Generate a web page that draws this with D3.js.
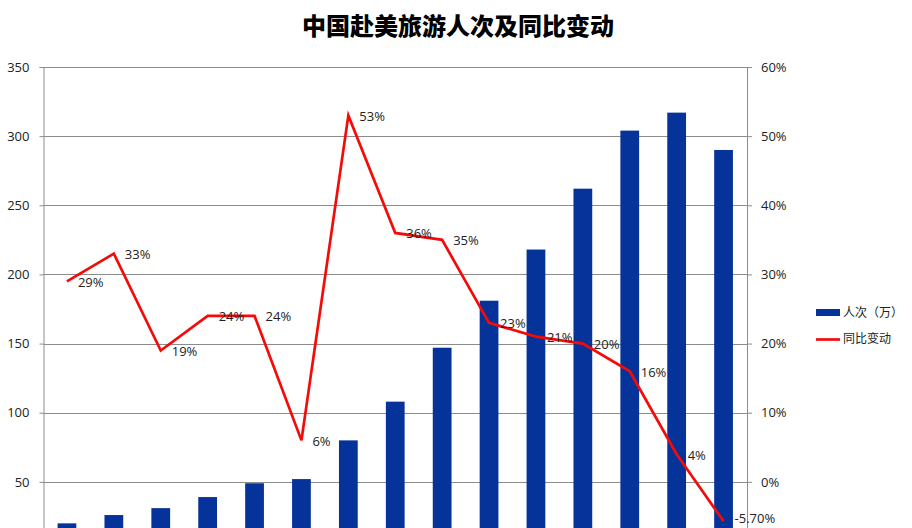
<!DOCTYPE html>
<html>
<head>
  <meta charset="utf-8">
  <title>中国赴美旅游人次及同比变动</title>
  <script src="https://d3js.org/d3.v7.min.js"></script>
  <style>
    body { margin: 0; background: #fff; }
    svg { display: block; overflow: hidden; }
    text { font-family: "Open Sans", "Noto Sans CJK SC", sans-serif; fill: #222; }
    .grid line { stroke: #8c8c8c; }
    .axis path, .axis line { stroke: #8c8c8c; }
  </style>
</head>
<body>
<div id="chart"></div>
<script>
// categories (the year labels sit below the photographed frame, so they are not drawn)
var years = ["2004", "2005", "2006", "2007", "2008", "2009", "2010", "2011",
             "2012", "2013", "2014", "2015", "2016", "2017", "2018"];
// 人次（万）
var visitors = [20, 26, 31, 39, 49, 52, 80, 108, 147, 181, 218, 262, 304, 317, 290];
// 同比变动 (%)
var yoy = [29, 33, 19, 24, 24, 6, 53, 36, 35, 23, 21, 20, 16, 4, -5.7];
var yoyLabels = ["29%", "33%", "19%", "24%", "24%", "6%", "53%", "36%", "35%",
                 "23%", "21%", "20%", "16%", "4%", "-5.70%"];
// only the ticks that fall inside the frame
var leftTicks = [50, 100, 150, 200, 250, 300, 350];
var rightTicks = [0, 10, 20, 30, 40, 50, 60];

var W = 912, H = 528;
var margin = {top: 67, right: 165, left: 43.5};
var plotBottom = 551;   // chart continues below the photographed frame

var svg = d3.select("#chart").append("svg")
    .attr("width", W)
    .attr("height", H);

var x = d3.scaleBand()
    .domain(years)
    .range([margin.left, W - margin.right])
    .paddingInner(0.6)
    .paddingOuter(0.3);

var yL = d3.scaleLinear().domain([0, 350]).range([plotBottom, margin.top]);
var yR = d3.scaleLinear().domain([-10, 60]).range([plotBottom, margin.top]);

// gridlines
svg.append("g")
    .attr("class", "grid")
    .selectAll("line")
    .data(leftTicks)
    .enter().append("line")
    .attr("x1", margin.left)
    .attr("x2", W - margin.right)
    .attr("y1", function(d) { return Math.round(yL(d)) + 0.5; })
    .attr("y2", function(d) { return Math.round(yL(d)) + 0.5; });

// left axis
var gl = svg.append("g")
    .attr("class", "axis")
    .attr("transform", "translate(" + margin.left + ",0)")
    .call(d3.axisLeft(yL).tickValues(leftTicks).tickSize(4).tickPadding(10));
gl.selectAll("text").style("font-size", "13px");

// right axis
var gr = svg.append("g")
    .attr("class", "axis")
    .attr("transform", "translate(" + (W - margin.right) + ",0)")
    .call(d3.axisRight(yR).tickValues(rightTicks).tickSize(5).tickPadding(9)
      .tickFormat(function(d) { return d + "%"; }));
gr.selectAll("text").style("font-size", "13px");

// bars
svg.selectAll(".bar")
    .data(visitors)
    .enter().append("rect")
    .attr("class", "bar")
    .attr("x", function(d, i) { return x(years[i]); })
    .attr("width", x.bandwidth())
    .attr("y", function(d) { return yL(d); })
    .attr("height", function(d) { return plotBottom - yL(d); })
    .attr("fill", "#05339a");

// line
var line = d3.line()
    .x(function(d, i) { return x(years[i]) + x.bandwidth() / 2; })
    .y(function(d) { return yR(d); });

svg.append("path")
    .datum(yoy)
    .attr("d", line)
    .attr("fill", "none")
    .attr("stroke", "#f50a0a")
    .attr("stroke-width", 2.7)
    .attr("stroke-linejoin", "miter");

// data labels
svg.selectAll(".lbl")
    .data(yoy)
    .enter().append("text")
    .attr("class", "lbl")
    .attr("x", function(d, i) { return x(years[i]) + x.bandwidth() / 2 + 11; })
    .attr("y", function(d) { return Math.min(yR(d) + 2, H - 8); })
    .attr("dominant-baseline", "middle")
    .style("font-size", "13px")
    .text(function(d, i) { return yoyLabels[i]; });

// title
svg.append("text")
    .attr("x", 458)
    .attr("y", 28)
    .attr("text-anchor", "middle")
    .attr("dominant-baseline", "middle")
    .style("font-family", "'Noto Sans CJK SC', sans-serif")
    .style("font-size", "24px")
    .style("font-weight", "900")
    .style("fill", "#000")
    .text("中国赴美旅游人次及同比变动");

// legend
var lg = svg.append("g").attr("transform", "translate(816,0)");
lg.append("rect")
    .attr("x", 0).attr("y", 309)
    .attr("width", 24).attr("height", 7)
    .attr("fill", "#05339a");
lg.append("text")
    .attr("x", 27).attr("y", 314)
    .attr("dominant-baseline", "middle")
    .style("font-family", "'Noto Sans CJK SC', sans-serif")
    .style("font-size", "12px")
    .text("人次（万）");
lg.append("line")
    .attr("x1", 0).attr("x2", 24)
    .attr("y1", 339.5).attr("y2", 339.5)
    .attr("stroke", "#f50a0a")
    .attr("stroke-width", 2.7);
lg.append("text")
    .attr("x", 27).attr("y", 340)
    .attr("dominant-baseline", "middle")
    .style("font-family", "'Noto Sans CJK SC', sans-serif")
    .style("font-size", "12px")
    .text("同比变动");
</script>
</body>
</html>
